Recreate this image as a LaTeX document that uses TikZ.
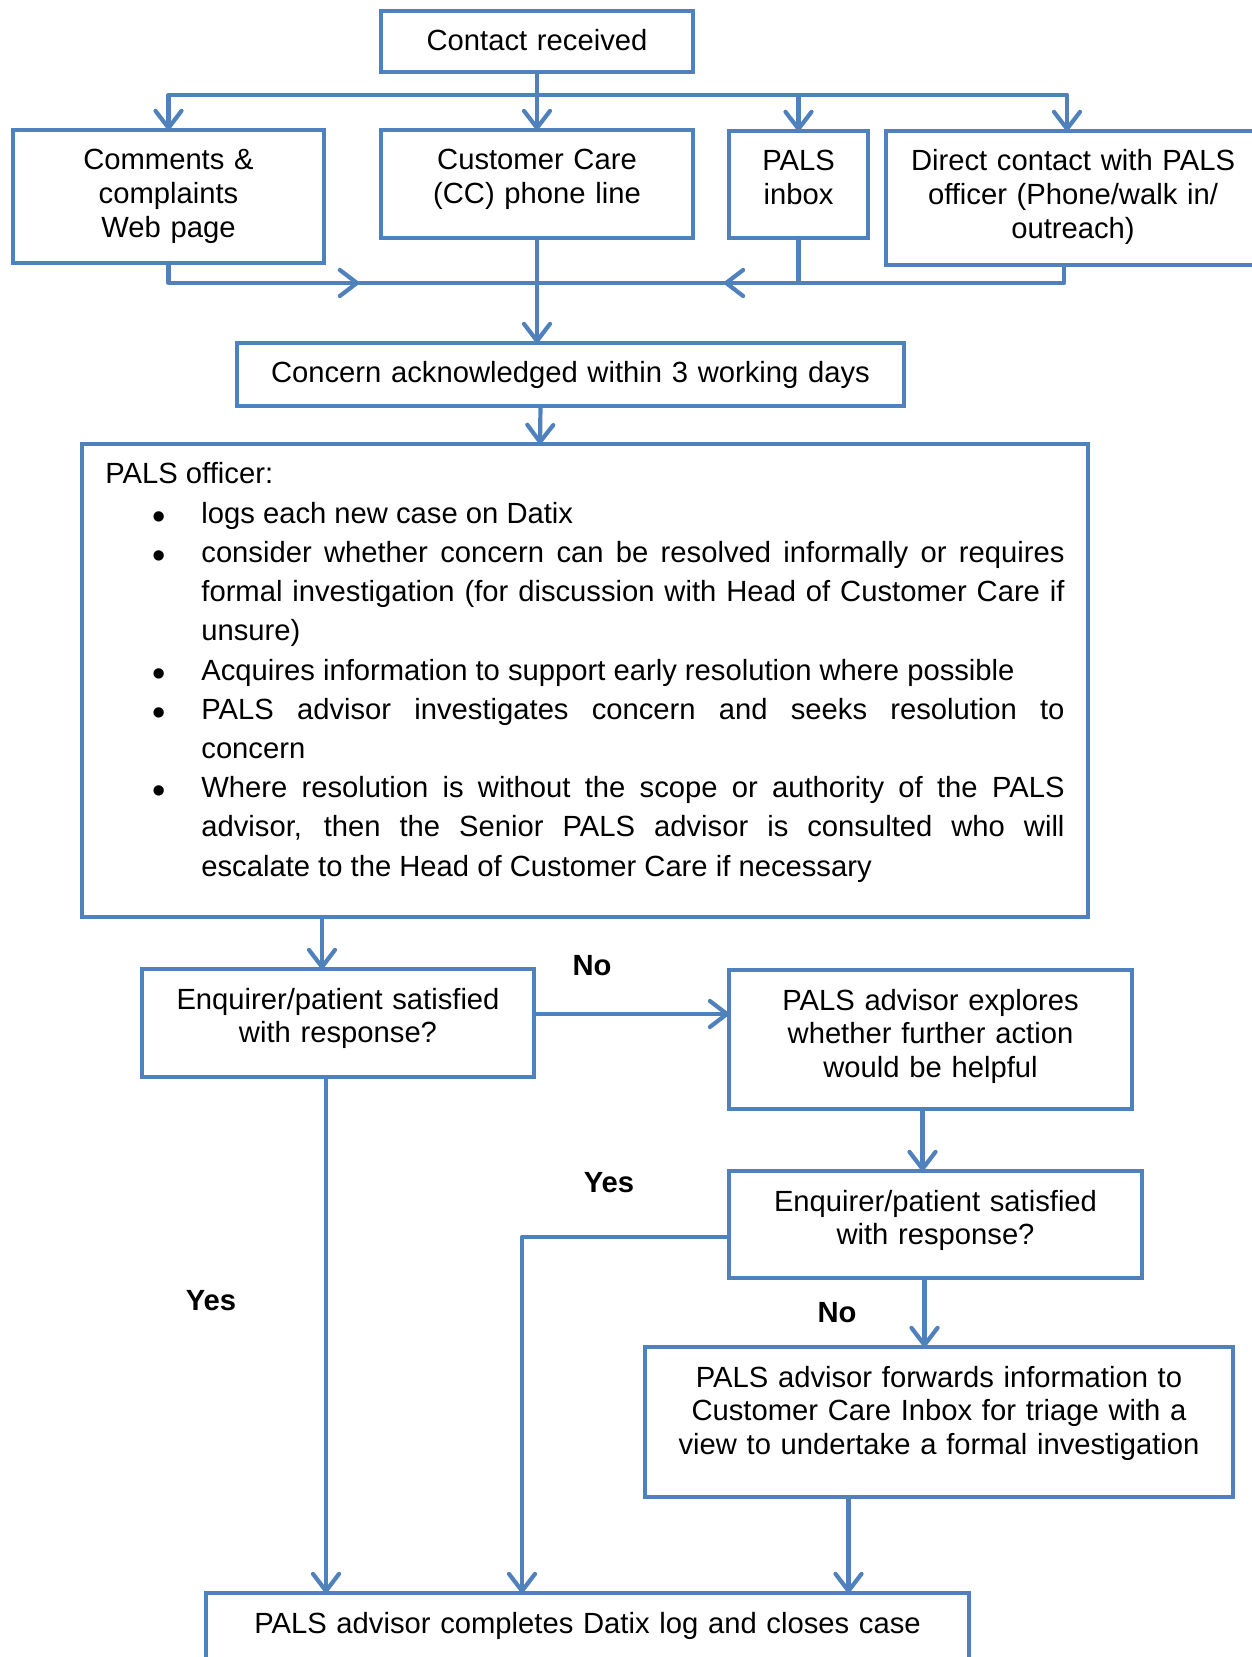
\documentclass[tikz,border=0pt]{standalone}
\usepackage{fontspec}
\setmainfont{Liberation Sans}
\usetikzlibrary{arrows.meta}
\usetikzlibrary{calc}
\definecolor{ColBlue}{RGB}{79,129,189}
\definecolor{ColText}{RGB}{0,0,0}
\newcommand{\ItemDot}{\raisebox{-3pt}{\fontsize{19pt}{19pt}\selectfont\textbullet}}
\newcommand{\DotLabel}[1]{\hbox to 0pt{\hss#1\hss}}
\tikzstyle{NodeBox}=[draw=ColBlue,line width=2.4pt,anchor=north,outer sep=0pt,
inner xsep=0pt,inner ysep=9.5pt,text height=10.5pt,align=center,text=ColText,
font=\fontsize{14.6pt}{16.9pt}\selectfont]
\tikzstyle{EdgeFlow}=[ColBlue,line width=2.1pt,line cap=round,line join=round]
\tikzstyle{EdgeArrow}=[EdgeFlow,-{Straight Barb[length=8.5pt,width=13pt,round]}]
\tikzstyle{LabelFlow}=[font=\fontsize{14.6pt}{16.9pt}\selectfont\bfseries,inner sep=0pt]
\begin{document}
\begin{tikzpicture}[x=0.5pt,y=-0.5pt]
        \useasboundingbox (0,0) rectangle (1251,1657);
        % entry points
        \node[NodeBox,text width=156pt,text depth=1pt](contact)at(537,11){Contact received};
        \node[NodeBox,text width=155.5pt,text depth=37pt](comments)at(168.5,130){Comments \&\\complaints\\Web page};
        \node[NodeBox,text width=156pt,text depth=24.5pt](cc)at(537,130){Customer Care\\(CC) phone line};
        \node[NodeBox,text width=69.5pt,text depth=24pt](inbox)at(798.5,131){PALS\\inbox};
        \node[NodeBox,text width=187pt,text depth=37.5pt](direct)at(1073,131){Direct contact with PALS\\officer (Phone/walk in/\\outreach)};
        \node[NodeBox,text width=333.5pt,text depth=2pt](ack)at(570.5,343){Concern acknowledged within 3 working days};
        % officer tasks
        \node[NodeBox,text width=479.6pt,inner xsep=11.7pt,text depth=207pt,align=justify,
        font=\fontsize{14.6pt}{19.6pt}\selectfont](officer)at(585,444){\hyphenpenalty=10000
        PALS officer:
        \begin{list}{\ItemDot}{\setlength\leftmargin{48pt}\setlength\labelwidth{0pt}%
        \setlength\labelsep{21pt}\setlength\itemsep{0pt}\setlength\parsep{0pt}%
        \setlength\topsep{-1.5pt}\setlength\partopsep{0pt}\let\makelabel\DotLabel}
        \item logs each new case on Datix
        \item consider whether concern can be resolved informally or requires\linebreak
        formal investigation (for discussion with Head of Customer Care if\linebreak unsure)
        \item Acquires information to support early resolution where possible
        \item PALS advisor investigates concern and seeks resolution to\linebreak concern
        \item Where resolution is without the scope or authority of the PALS\linebreak
        advisor, then the Senior PALS advisor is consulted who will\linebreak
        escalate to the Head of Customer Care if necessary
        \end{list}};
        % outcomes
        \node[NodeBox,text width=196pt,text depth=24.5pt](sat1)at(338,969){Enquirer/patient satisfied\\with response?};
        \node[NodeBox,text width=201.5pt,text depth=40pt](explore)at(930.5,970){PALS advisor explores\\whether further action\\would be helpful};
        \node[NodeBox,text width=206.5pt,text depth=24pt](sat2)at(935.5,1171){Enquirer/patient satisfied\\with response?};
        \node[NodeBox,text width=294pt,text depth=45.5pt](forward)at(939,1347){PALS advisor forwards information to\\Customer Care Inbox for triage with a\\view to undertake a formal investigation};
        \node[NodeBox,text width=381.5pt,text depth=20.5pt](close)at(587.5,1593){PALS advisor completes Datix log and closes case};
        \node[LabelFlow](no1)at(592,966){No};
        \node[LabelFlow](yes1)at(609,1183){Yes};
        \node[LabelFlow](yes2)at(211,1301){Yes};
        \node[LabelFlow](no2)at(837,1313){No};
        % split and merge
        \coordinate(split)at(537,95);
        \coordinate(merge)at(537,283);
        \coordinate(mergeL)at(359,283);
        \coordinate(mergeR)at(724,283);
        \draw[EdgeFlow](contact)--(split);
        \draw[EdgeArrow](split)-|(comments.north);
        \draw[EdgeArrow](split)--(cc.north);
        \draw[EdgeArrow](split)-|(inbox.north);
        \draw[EdgeArrow](split)-|($(direct.north)+(-6,0)$);
        \draw[EdgeArrow](comments.south)|-(mergeL);
        \draw[EdgeFlow](mergeL)--(merge);
        \draw[EdgeArrow]($(direct.south)+(-9,0)$)|-(mergeR);
        \draw[EdgeFlow](mergeR)--(merge);
        \draw[EdgeFlow](inbox.south)--(inbox.south|-merge);
        \draw[EdgeArrow](cc.south)--(cc.south|-ack.north);
        \draw[EdgeArrow]($(ack.south)+(-30,0)$)--($(officer.north)+(-45,0)$);
        \draw[EdgeArrow]($(officer.south)+(-263,0)$)--($(sat1.north)+(-16,0)$);
        \draw[EdgeArrow]($(sat1.east)+(0,-9)$)--($(explore.west)+(0,-25.5)$);
        \draw[EdgeArrow]($(explore.south)+(-8,0)$)--($(sat2.north)+(-13,0)$);
        \draw[EdgeArrow]($(sat2.west)+(0,12.5)$)-|($(close.north)+(-65.5,0)$);
        \draw[EdgeArrow]($(sat1.south)+(-12,0)$)--($(close.north)+(-261.5,0)$);
        \draw[EdgeArrow]($(sat2.south)+(-11,0)$)--($(forward.north)+(-14.5,0)$);
        \draw[EdgeArrow]($(forward.south)+(-90.5,0)$)--($(close.north)+(261,0)$);
    \end{tikzpicture}
\end{document}
